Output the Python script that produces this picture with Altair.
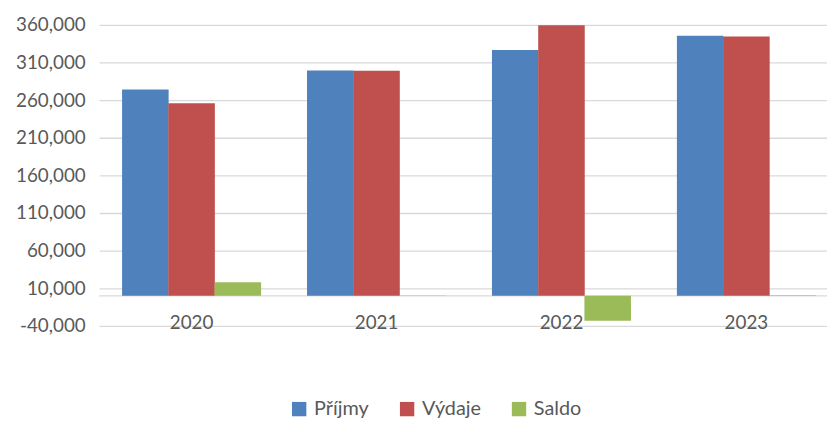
import altair as alt
import pandas as pd

years = ["2020", "2021", "2022", "2023"]
series = ["Příjmy", "Výdaje", "Saldo"]
prijmy = [274000, 299500, 326500, 345500]
vydaje = [256000, 299000, 359500, 344600]
saldo = [18000, 500, -33000, 900]
colors = ["#4F81BD", "#C0504D", "#9BBB59"]
y_ticks = [-40000, 10000, 60000, 110000, 160000, 210000, 260000, 310000, 360000]

rows = []
for i, y in enumerate(years):
    for s, vals in zip(series, [prijmy, vydaje, saldo]):
        rows.append({"rok": y, "serie": s, "hodnota": vals[i]})
df = pd.DataFrame(rows)

FONT = "Lato"
GRAY = "#595959"
FS = 19
yscale = alt.Scale(domain=[-40000, 360000], nice=False, zero=False)
yaxis = alt.Axis(values=y_ticks, ticks=False, domain=False,
                 labelExpr="(datum.value < 0 ? '-' : '') + format(abs(datum.value), ',d')",
                 labelOverlap=False, labelPadding=14, labelFont=FONT,
                 labelFontSize=FS, labelColor=GRAY,
                 gridColor="#D9D9D9", gridWidth=1.3)

bars = alt.Chart(df).mark_bar(size=47).encode(
    x=alt.X("rok:N", sort=years, title=None,
            scale=alt.Scale(paddingInner=0.25, paddingOuter=0.125, range=[0, 747]),
            axis=alt.Axis(labelAngle=0, ticks=False, domain=False, labelBaseline="middle",
                          labelPadding=-3, labelFont=FONT, labelFontSize=FS, labelColor=GRAY)),
    xOffset=alt.XOffset("serie:N", sort=series, scale=alt.Scale(paddingInner=0, paddingOuter=0)),
    y=alt.Y("hodnota:Q", title=None, scale=yscale, axis=yaxis),
    color=alt.Color("serie:N", sort=series,
                    scale=alt.Scale(domain=series, range=colors),
                    legend=alt.Legend(title=None, orient="none", direction="horizontal",
                                      legendX=192, legendY=378, symbolType="square",
                                      symbolSize=210, symbolStrokeWidth=0, labelFont=FONT,
                                      labelFontSize=20, labelColor=GRAY, columnPadding=28,
                                      labelOffset=5)),
)

zero = alt.Chart(pd.DataFrame({"v": [0]})).mark_rule(color="#D9D9D9", strokeWidth=1.3).encode(
    y=alt.Y("v:Q", title=None, scale=yscale, axis=yaxis)
)

chart = alt.layer(zero, bars).properties(
    width=735, height=304,
    autosize=alt.AutoSizeParams(type="none"),
    padding={"left": 92, "top": 15, "right": 0, "bottom": 94},
    background="white",
).configure_view(stroke=None)

chart.save("out.html", embed_options={"renderer": "svg", "actions": False})
